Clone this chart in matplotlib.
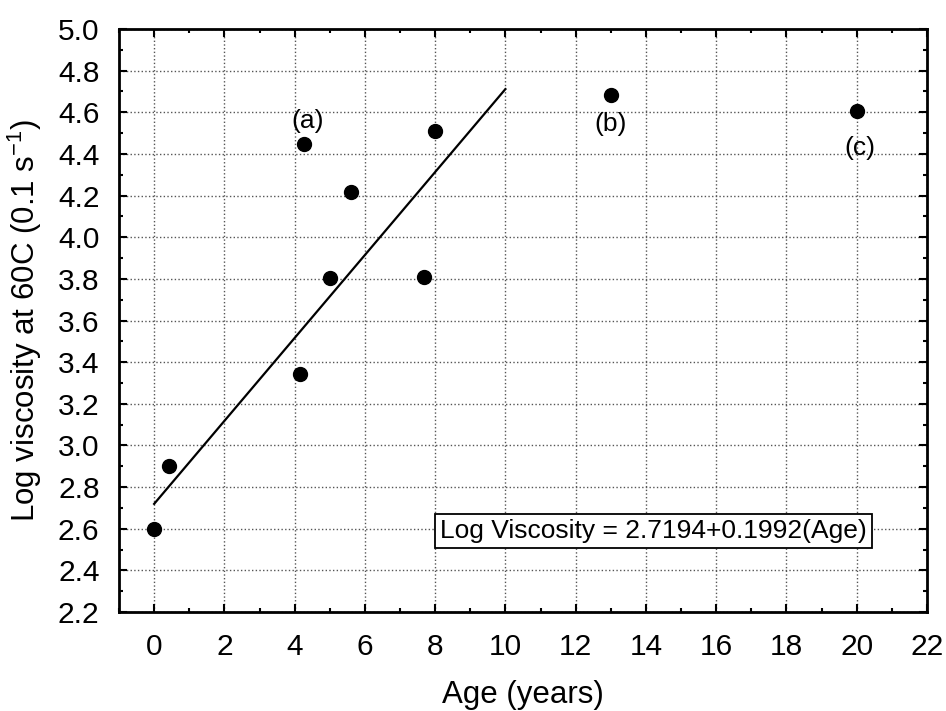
import matplotlib
matplotlib.use('Agg')
import matplotlib.pyplot as plt
import numpy as np
from matplotlib.ticker import MultipleLocator, FormatStrFormatter

plt.rcParams['font.family'] = ['Liberation Sans', 'DejaVu Sans']
plt.rcParams['mathtext.default'] = 'regular'

# data
age = [0.0, 0.43, 4.14, 4.26, 5.0, 5.6, 7.67, 8.0, 13.0, 20.0]
log_visc = [2.60, 2.90, 3.345, 4.45, 3.805, 4.215, 3.81, 4.51, 4.685, 4.605]

# regression line: Log Viscosity = 2.7194 + 0.1992 * Age, fitted over 0..10
intercept = 2.7194
slope = 0.1992
fit_range = [0, 10]

labels = ['(a)', '(b)', '(c)']
label_pos = [(4.38, 4.56), (13.0, 4.545), (20.1, 4.43)]

fig = plt.figure(figsize=(9.46, 7.11), dpi=100)
ax = fig.add_axes([0.1258, 0.1392, 0.854, 0.82])

fx = np.array(fit_range)
ax.plot(fx, intercept + slope * fx, color='black', lw=1.6, zorder=3)
ax.scatter(age, log_visc, s=100, color='black', zorder=4)

for txt, (x, y) in zip(labels, label_pos):
    ax.text(x, y, txt, fontsize=19, ha='center', va='center')

ax.text(14.22, 2.59, 'Log Viscosity = 2.7194+0.1992(Age)', fontsize=19,
        ha='center', va='center',
        bbox=dict(boxstyle='square,pad=0.2', fc='white', ec='black', lw=1.3))

ax.set_xlim(-1, 22)
ax.set_ylim(2.2, 5.0)
ax.xaxis.set_major_locator(MultipleLocator(2))
ax.xaxis.set_minor_locator(MultipleLocator(1))
ax.yaxis.set_major_locator(MultipleLocator(0.2))
ax.yaxis.set_minor_locator(MultipleLocator(0.1))
ax.yaxis.set_major_formatter(FormatStrFormatter('%.1f'))

ax.tick_params(which='both', direction='in', top=True, right=True, labelsize=21.5)
ax.tick_params(which='major', length=6, width=1.5)
ax.tick_params(which='minor', length=3, width=1.5)
ax.tick_params(axis='x', which='major', pad=15)
ax.tick_params(axis='y', which='major', pad=14)

ax.grid(True, which='major', linestyle=':', color='#555555', lw=1)
for s in ax.spines.values():
    s.set_linewidth(2)

ax.set_xlabel('Age (years)', fontsize=22.5, labelpad=14)
ax.set_ylabel('Log viscosity at 60C (0.1 s$^{-1}$)', fontsize=22.5, labelpad=10)

plt.savefig('out.png', dpi=100)
